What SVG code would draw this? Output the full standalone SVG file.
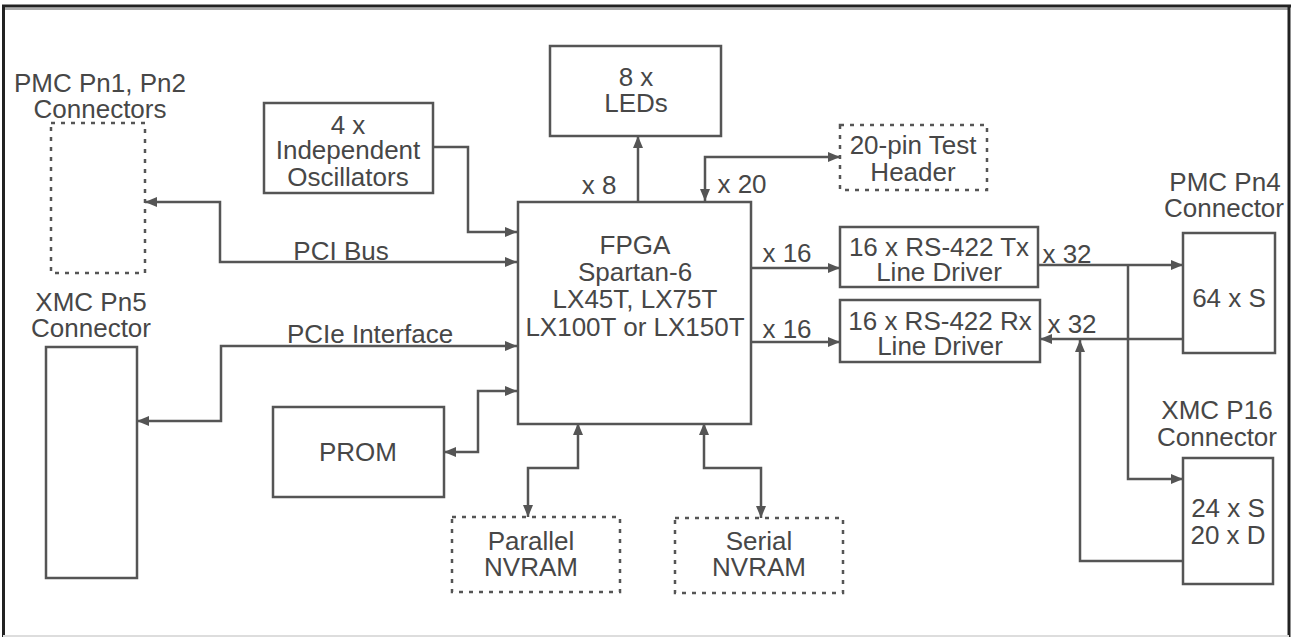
<svg xmlns="http://www.w3.org/2000/svg" width="1294" height="639" viewBox="0 0 1294 639">
<defs>
<style>
.box{fill:#fff;stroke:#555;stroke-width:2.5}
.dash{fill:#fff;stroke:#555;stroke-width:2.5;stroke-dasharray:4 6}
.ln{fill:none;stroke:#555;stroke-width:2.5}
text{font-family:"Liberation Sans",Arial,sans-serif;font-size:26px;fill:#474747;text-anchor:middle}
</style>
<marker id="ah" viewBox="0 0 12 10" refX="12" refY="5" markerWidth="12" markerHeight="10" markerUnits="userSpaceOnUse" orient="auto-start-reverse">
<path d="M0,0 L12,5 L0,10 Z" fill="#555"/>
</marker>
</defs>
<rect x="0" y="0" width="1294" height="639" fill="#fff"/>
<g id="frame">
<line x1="2" y1="6" x2="1291" y2="6" stroke="#222" stroke-width="3"/>
<line x1="4" y1="9" x2="1289" y2="9" stroke="#aaa" stroke-width="2"/>
<line x1="3.5" y1="5" x2="3.5" y2="637" stroke="#222" stroke-width="3"/>
<line x1="1289" y1="5" x2="1289" y2="637" stroke="#222" stroke-width="3"/>
<line x1="3" y1="636" x2="1289" y2="636" stroke="#ddd" stroke-width="2"/>
</g>
<g id="connectors">
<path class="ln" d="M433,147 H468 V232 H517" marker-end="url(#ah)"/>
<path class="ln" d="M145,202 H220 V262 H517" marker-start="url(#ah)" marker-end="url(#ah)"/>
<path class="ln" d="M137,421 H221 V346 H517" marker-start="url(#ah)" marker-end="url(#ah)"/>
<path class="ln" d="M444,452 H478 V391 H517" marker-start="url(#ah)" marker-end="url(#ah)"/>
<path class="ln" d="M638,202 V136" marker-end="url(#ah)"/>
<path class="ln" d="M705,201 V157 H840" marker-start="url(#ah)" marker-end="url(#ah)"/>
<path class="ln" d="M751,268 H840" marker-end="url(#ah)"/>
<path class="ln" d="M751,342 H840" marker-end="url(#ah)"/>
<path class="ln" d="M578,423 V468 H528 V517" marker-start="url(#ah)" marker-end="url(#ah)"/>
<path class="ln" d="M704,423 V468 H761 V518" marker-start="url(#ah)" marker-end="url(#ah)"/>
<path class="ln" d="M1038,265 H1183" marker-end="url(#ah)"/>
<path class="ln" d="M1128,265 V479 H1183" marker-end="url(#ah)"/>
<path class="ln" d="M1183,339 H1040" marker-end="url(#ah)"/>
<path class="ln" d="M1183,561 H1080 V340" marker-end="url(#ah)"/>
<text x="341" y="260">PCI Bus</text>
<text x="370" y="343">PCIe Interface</text>
<text x="599" y="194">x 8</text>
<text x="742" y="193">x 20</text>
<text x="787" y="262">x 16</text>
<text x="787" y="338">x 16</text>
<text x="1067" y="263">x 32</text>
<text x="1072" y="333">x 32</text>
</g>
<g id="leds">
<rect class="box" x="550" y="46" width="171" height="90"/>
<text x="636" y="86">8 x</text>
<text x="636" y="112">LEDs</text>
</g>
<g id="oscillators">
<rect class="box" x="264" y="103" width="169" height="90"/>
<text x="348" y="134">4 x</text>
<text x="348" y="159">Independent</text>
<text x="348" y="186">Oscillators</text>
</g>
<g id="test-header">
<rect class="dash" x="840" y="125" width="147" height="65"/>
<text x="913" y="154">20-pin Test</text>
<text x="913" y="181">Header</text>
</g>
<g id="pmc-pn1-pn2">
<text x="100" y="92">PMC Pn1, Pn2</text>
<text x="100" y="118">Connectors</text>
<rect class="dash" x="51" y="123" width="94" height="150" fill="none"/>
</g>
<g id="fpga">
<rect class="box" x="518" y="202" width="233" height="222"/>
<text x="635" y="254">FPGA</text>
<text x="635" y="281">Spartan-6</text>
<text x="635" y="308">LX45T, LX75T</text>
<text x="635" y="336">LX100T or LX150T</text>
</g>
<g id="tx-driver">
<rect class="box" x="840" y="227" width="198" height="60"/>
<text x="939" y="256">16 x RS-422 Tx</text>
<text x="939" y="281">Line Driver</text>
</g>
<g id="rx-driver">
<rect class="box" x="840" y="300" width="200" height="62"/>
<text x="940" y="330">16 x RS-422 Rx</text>
<text x="940" y="355">Line Driver</text>
</g>
<g id="pmc-pn4">
<text x="1225" y="191">PMC Pn4</text>
<text x="1224" y="217">Connector</text>
<rect class="box" x="1183" y="233" width="92" height="120"/>
<text x="1229" y="307">64 x S</text>
</g>
<g id="xmc-p16">
<text x="1217" y="419">XMC P16</text>
<text x="1217" y="446">Connector</text>
<rect class="box" x="1183" y="458" width="90" height="126"/>
<text x="1228" y="517">24 x S</text>
<text x="1228" y="544">20 x D</text>
</g>
<g id="xmc-pn5">
<text x="91" y="311">XMC Pn5</text>
<text x="91" y="337">Connector</text>
<rect class="box" x="46" y="347" width="91" height="231"/>
</g>
<g id="prom">
<rect class="box" x="273" y="407" width="171" height="90"/>
<text x="358" y="461">PROM</text>
</g>
<g id="parallel-nvram">
<rect class="dash" x="452" y="517" width="168" height="75"/>
<text x="531" y="550">Parallel</text>
<text x="531" y="576">NVRAM</text>
</g>
<g id="serial-nvram">
<rect class="dash" x="675" y="518" width="168" height="75"/>
<text x="759" y="550">Serial</text>
<text x="759" y="576">NVRAM</text>
</g>
</svg>
